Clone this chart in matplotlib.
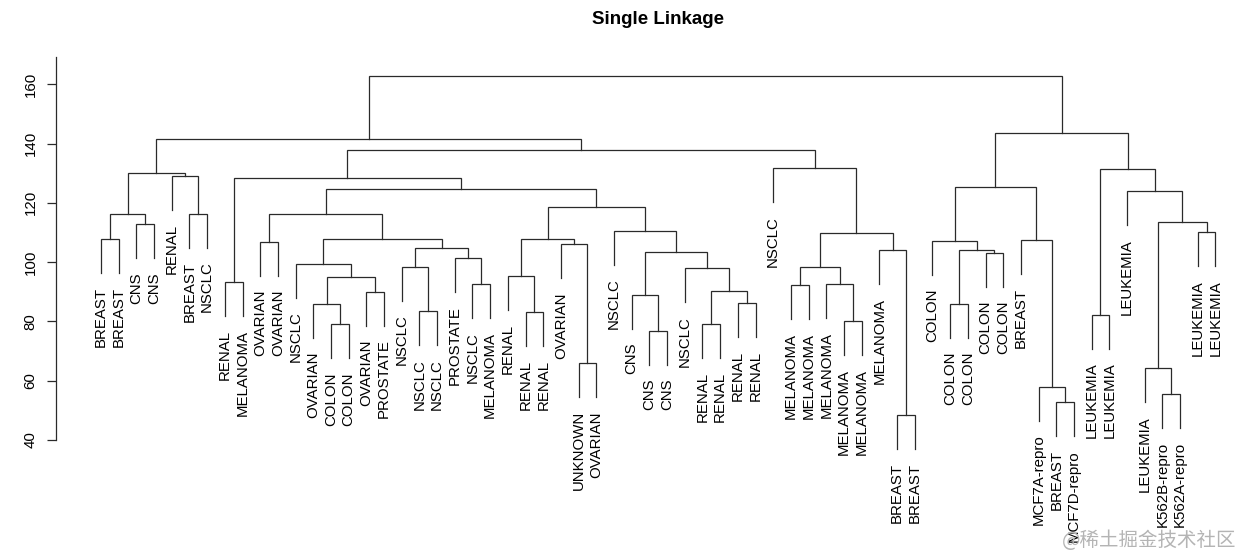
import numpy as np
import matplotlib
matplotlib.use("Agg")
import matplotlib.pyplot as plt

plt.rcParams['font.family'] = ['Liberation Sans', 'DejaVu Sans']

# leaf labels in plotted order
labels = ['BREAST', 'BREAST', 'CNS', 'CNS', 'RENAL', 'BREAST', 'NSCLC', 'RENAL',
          'MELANOMA', 'OVARIAN', 'OVARIAN', 'NSCLC', 'OVARIAN', 'COLON', 'COLON',
          'OVARIAN', 'PROSTATE', 'NSCLC', 'NSCLC', 'NSCLC', 'PROSTATE', 'NSCLC',
          'MELANOMA', 'RENAL', 'RENAL', 'RENAL', 'OVARIAN', 'UNKNOWN', 'OVARIAN',
          'NSCLC', 'CNS', 'CNS', 'CNS', 'NSCLC', 'RENAL', 'RENAL', 'RENAL', 'RENAL',
          'NSCLC', 'MELANOMA', 'MELANOMA', 'MELANOMA', 'MELANOMA', 'MELANOMA',
          'MELANOMA', 'BREAST', 'BREAST', 'COLON', 'COLON', 'COLON', 'COLON', 'COLON',
          'BREAST', 'MCF7A-repro', 'BREAST', 'MCF7D-repro', 'LEUKEMIA', 'LEUKEMIA',
          'LEUKEMIA', 'LEUKEMIA', 'K562B-repro', 'K562A-repro', 'LEUKEMIA', 'LEUKEMIA']

# hclust style merges: negative = leaf (1-based), positive = earlier merge (1-based)
merge_a = [-1, -3, 1, -6, -5, 3, -8, -10, -14, -13, -16, 10, -12, -19, -18, -22,
           -21, 15, 13, 8, -25, -24, -28, -27, 22, -32, -31, -35, -37, 28, -34, 27,
           -30, 25, 20, 7, -40, -43, -42, 37, -46, -45, 40, -39, 36, 6, -49, -51,
           47, -48, -55, -54, -53, 50, -57, -61, -60, -63, 57, -59, 55, 54, 46]
merge_b = [-2, -4, 2, -7, 4, 5, -9, -11, -15, 9, -17, 11, 12, -20, 14, -23,
           16, 17, 18, 19, -26, 21, -29, 23, 24, -33, 26, -36, -38, 29, 30, 31,
           32, 33, 34, 35, -41, -44, 38, 39, -47, 41, 42, 43, 44, 45, -50, -52,
           48, 49, -56, 51, 52, 53, -58, -62, 56, -64, 58, 59, 60, 61, 62]
merge_h = [107.8, 112.7, 116.3, 116.3, 129.0, 130.0, 93.3, 106.9, 79.0, 86.0,
           90.0, 95.1, 99.5, 83.4, 98.4, 92.5, 101.3, 104.7, 107.8, 116.3,
           83.1, 95.2, 65.9, 106.0, 107.8, 76.9, 89.0, 79.2, 86.1, 90.3,
           97.9, 103.3, 110.6, 118.7, 124.6, 128.5, 92.3, 80.2, 92.6, 98.2,
           48.3, 104.0, 109.9, 131.6, 137.9, 141.4, 86.0, 103.2, 104.0, 107.2,
           52.7, 58.0, 107.5, 125.4, 82.2, 55.5, 64.3, 110.0, 113.4, 123.9,
           131.3, 143.5, 162.7]

yticks = [40, 60, 80, 100, 120, 140, 160]

W, H = 1240, 557
fig = plt.figure(figsize=(W / 100, H / 100), dpi=100)
# plot region in pixels
px_unit = 17.69
left_px, top_px, bot_px = 56, 57.3, 465.0
ax = fig.add_axes([left_px / W, 1 - bot_px / H, (W - left_px) / W, (bot_px - top_px) / H])
ax.set_xlim(1 - (101 - left_px) / px_unit, 1 + (W - 101) / px_unit)
ax.set_ylim(31.57, 169.1)

hang = 0.1 * (max(merge_h) - min(merge_h))
lc = '#2a2a2a'
lw = 0.9

xpos = {}
for i, (a, b, h) in enumerate(zip(merge_a, merge_b, merge_h)):
    ends = []
    for c in (a, b):
        if c < 0:
            x = -c
            ytop = h - hang
            ax.annotate(labels[-c - 1], (x, ytop), xytext=(0, -10),
                        textcoords='offset points', rotation=90, ha='center',
                        va='top', fontsize=10.8, annotation_clip=False)
        else:
            x = xpos[c]
            ytop = merge_h[c - 1]
        ends.append((x, ytop))
    (xa, ya), (xb, yb) = ends
    ax.plot([xa, xa, xb, xb], [ya, h, h, yb], color=lc, lw=lw,
            solid_joinstyle='miter', clip_on=False)
    xpos[i + 1] = (xa + xb) / 2

for s in ['top', 'right', 'bottom']:
    ax.spines[s].set_visible(False)
ax.spines['left'].set_bounds(40, 169.1)
ax.spines['left'].set_color(lc)
ax.spines['left'].set_linewidth(lw)
ax.set_xticks([])
ax.set_yticks(yticks)
ax.tick_params(axis='y', length=6.3, width=lw, color=lc, pad=7,
               labelsize=10.8, labelrotation=90)
for t in ax.get_yticklabels():
    t.set_va('center')

fig.text(658.5 / W, 1 - 20 / H, 'Single Linkage', ha='center', va='center',
         fontsize=13.5, fontweight='bold')
fig.text(1236 / W, 1 - 540 / H, '@稀土掘金技术社区', ha='right', va='center',
         fontsize=14, color='#b4b4b4', family=['Noto Sans CJK SC', 'DejaVu Sans'])

fig.savefig('out.png', dpi=100, facecolor='white')
